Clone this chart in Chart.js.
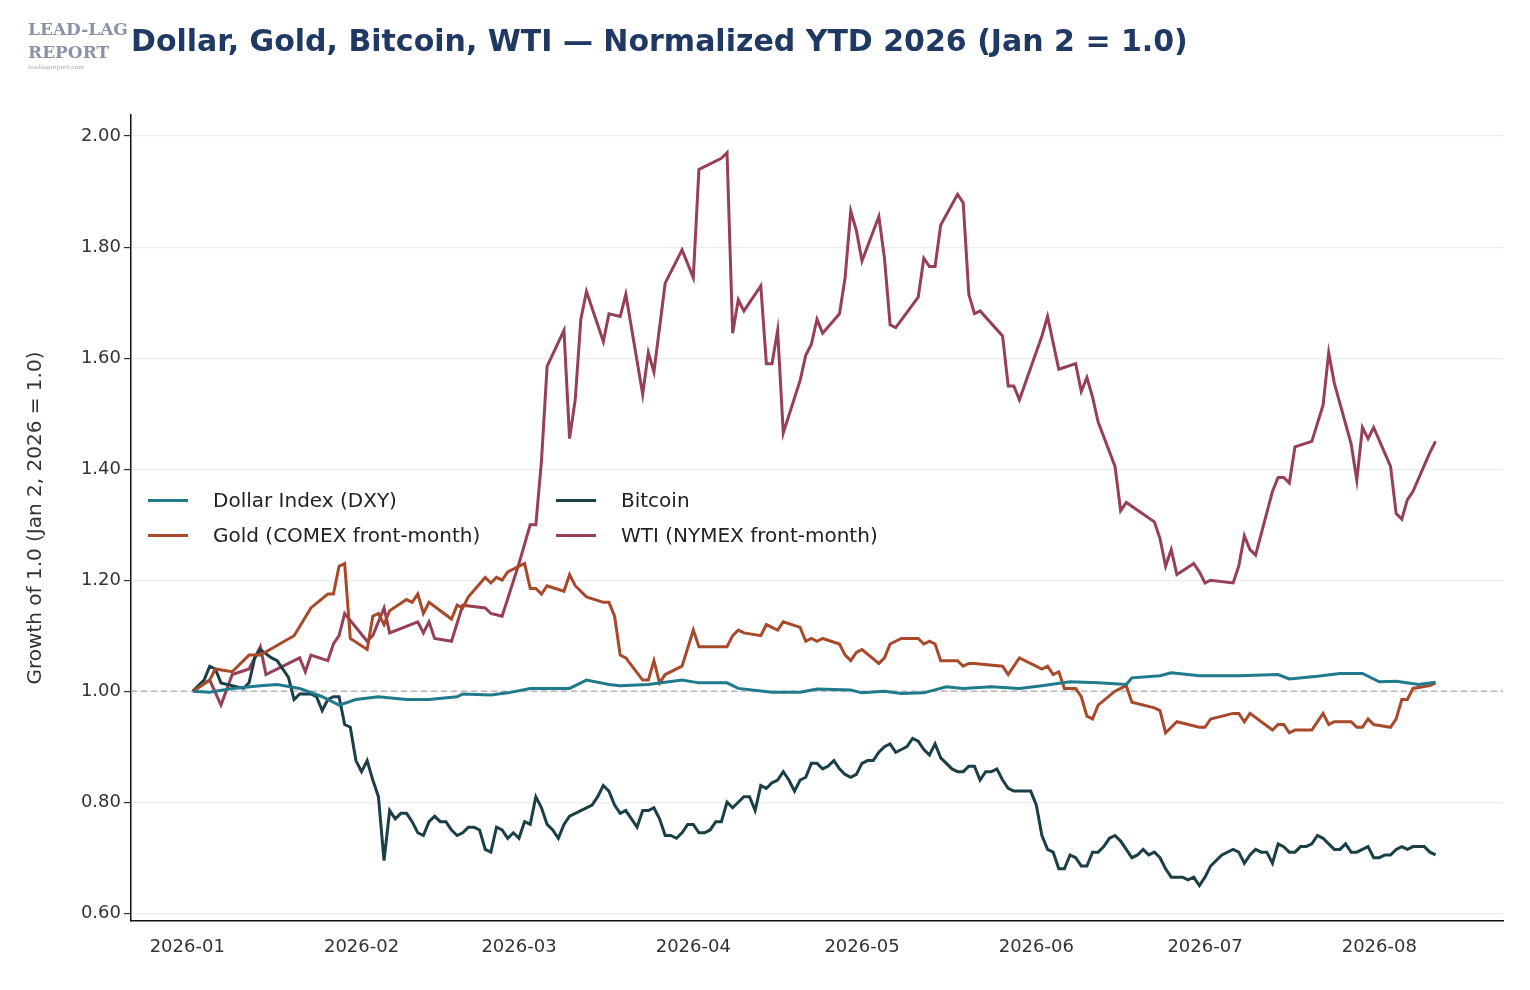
<!DOCTYPE html>
<html>
<head>
<meta charset="utf-8">
<script src="https://cdn.jsdelivr.net/npm/chart.js@4"></script>
<style>
  body { margin:0; background:#fff; font-family:"DejaVu Sans", sans-serif; }
  #wrap { position:relative; width:1530px; height:990px; }
  #logo { position:absolute; left:28px; top:18px; font-family:"DejaVu Serif", serif; font-weight:bold; color:#8a93a6; font-size:17px; line-height:23px; }
  #logo small { display:block; font-size:6px; line-height:6px; font-weight:normal; color:#aab; }
  #title { position:absolute; left:131px; top:23px; font-size:30px; font-weight:bold; color:#1f3864; }
  #legend { position:absolute; left:148px; top:488px; display:grid; grid-template-columns:408px 330px; row-gap:11px; font-size:20px; color:#222; }
  .it { display:flex; align-items:center; }
  .it i { display:inline-block; width:40px; height:3px; margin-right:25px; }
</style>
</head>
<body>
<div id="wrap">
  <canvas id="myChart" width="1530" height="990"></canvas>
  <div id="logo">LEAD-LAG<br>REPORT<small>leadlagreport.com</small></div>
  <div id="title">Dollar, Gold, Bitcoin, WTI — Normalized YTD 2026 (Jan 2 = 1.0)</div>
  <div id="legend">
    <div class="it"><i style="background:#1f7a8c"></i>Dollar Index (DXY)</div>
    <div class="it"><i style="background:#1b3f47"></i>Bitcoin</div>
    <div class="it"><i style="background:#a84a2a"></i>Gold (COMEX front-month)</div>
    <div class="it"><i style="background:#973f55"></i>WTI (NYMEX front-month)</div>
  </div>
</div>
<script>
/* 月初の位置 (1月1日 = 0日目) */
const monthDays = [0, 31, 59, 90, 120, 151, 181, 212];
const monthLabels = ["2026-01","2026-02","2026-03","2026-04","2026-05","2026-06","2026-07","2026-08"];
const yTicks = [0.6, 0.8, 1.0, 1.2, 1.4, 1.6, 1.8, 2.0];

/* [日, 値] */
const dxy = [[1,1.00],[4,0.998],[8,1.005],[13,1.01],[16,1.012],[20,1.005],[24,0.99],[27,0.975],[30,0.985],[34,0.99],[39,0.985],[43,0.985],[48,0.99],[49,0.995],[54,0.993],[57,0.997],[61,1.005],[68,1.005],[71,1.02],[75,1.012],[77,1.01],[82,1.012],[88,1.02],[91,1.015],[96,1.015],[98,1.005],[104,0.998],[109,0.998],[112,1.004],[118,1.002],[120,0.997],[124,1.0],[127,0.996],[131,0.997],[135,1.008],[138,1.005],[143,1.008],[148,1.005],[152,1.01],[157,1.017],[162,1.015],[167,1.012],[168,1.024],[173,1.028],[175,1.033],[180,1.028],[183,1.028],[187,1.028],[194,1.03],[196,1.022],[201,1.027],[205,1.032],[209,1.032],[212,1.017],[215,1.018],[219,1.012],[222,1.016]];

const gold = [[1,1.00],[4,1.02],[5,1.04],[8,1.035],[11,1.065],[13,1.065],[19,1.10],[22,1.15],[25,1.175],[26,1.175],[27,1.225],[28,1.23],[29,1.095],[32,1.075],[33,1.135],[34,1.14],[35,1.12],[36,1.145],[39,1.165],[40,1.16],[41,1.175],[42,1.14],[43,1.16],[47,1.13],[48,1.155],[49,1.15],[50,1.17],[53,1.205],[54,1.195],[55,1.205],[56,1.20],[57,1.215],[60,1.23],[61,1.185],[62,1.185],[63,1.175],[64,1.19],[67,1.18],[68,1.21],[69,1.19],[71,1.17],[74,1.16],[75,1.16],[76,1.135],[77,1.065],[78,1.06],[81,1.02],[82,1.02],[83,1.055],[84,1.015],[85,1.03],[88,1.045],[90,1.11],[91,1.08],[96,1.08],[97,1.10],[98,1.11],[99,1.105],[102,1.10],[103,1.12],[104,1.115],[105,1.11],[106,1.125],[109,1.115],[110,1.09],[111,1.095],[112,1.09],[113,1.095],[116,1.085],[117,1.065],[118,1.055],[119,1.07],[120,1.075],[123,1.05],[124,1.06],[125,1.085],[127,1.095],[130,1.095],[131,1.085],[132,1.09],[133,1.085],[134,1.055],[137,1.055],[138,1.045],[139,1.05],[140,1.05],[145,1.045],[146,1.03],[148,1.06],[152,1.04],[153,1.045],[154,1.03],[155,1.035],[156,1.005],[158,1.005],[159,0.99],[160,0.955],[161,0.95],[162,0.975],[165,1.00],[166,1.005],[167,1.01],[168,0.98],[172,0.97],[173,0.965],[174,0.925],[175,0.935],[176,0.945],[180,0.935],[181,0.935],[182,0.95],[186,0.96],[187,0.96],[188,0.945],[189,0.96],[193,0.93],[194,0.94],[195,0.94],[196,0.925],[197,0.93],[200,0.93],[202,0.96],[203,0.94],[204,0.945],[207,0.945],[208,0.935],[209,0.935],[210,0.95],[211,0.94],[214,0.935],[215,0.95],[216,0.985],[217,0.985],[218,1.005],[221,1.01],[222,1.015]];

const btc = [[1,1.00],[3,1.02],[4,1.045],[5,1.04],[6,1.015],[8,1.01],[10,1.005],[11,1.015],[12,1.06],[13,1.075],[15,1.06],[16,1.055],[18,1.025],[19,0.985],[20,0.995],[22,0.995],[23,0.99],[24,0.965],[25,0.985],[26,0.99],[27,0.99],[28,0.94],[29,0.935],[30,0.875],[31,0.855],[32,0.875],[33,0.84],[34,0.81],[35,0.695],[36,0.785],[37,0.77],[38,0.78],[39,0.78],[40,0.765],[41,0.745],[42,0.74],[43,0.765],[44,0.775],[45,0.765],[46,0.765],[47,0.75],[48,0.74],[49,0.745],[50,0.755],[51,0.755],[52,0.75],[53,0.715],[54,0.71],[55,0.755],[56,0.75],[57,0.735],[58,0.745],[59,0.735],[60,0.765],[61,0.76],[62,0.81],[63,0.79],[64,0.76],[65,0.75],[66,0.735],[67,0.76],[68,0.775],[70,0.785],[72,0.795],[73,0.81],[74,0.83],[75,0.82],[76,0.795],[77,0.78],[78,0.785],[79,0.77],[80,0.755],[81,0.785],[82,0.785],[83,0.79],[84,0.77],[85,0.74],[86,0.74],[87,0.735],[88,0.745],[89,0.76],[90,0.76],[91,0.745],[92,0.745],[93,0.75],[94,0.765],[95,0.765],[96,0.80],[97,0.79],[98,0.80],[99,0.81],[100,0.81],[101,0.785],[102,0.83],[103,0.825],[104,0.835],[105,0.84],[106,0.855],[107,0.84],[108,0.82],[109,0.84],[110,0.845],[111,0.87],[112,0.87],[113,0.86],[114,0.865],[115,0.875],[116,0.86],[117,0.85],[118,0.845],[119,0.85],[120,0.87],[121,0.875],[122,0.875],[123,0.89],[124,0.90],[125,0.905],[126,0.89],[127,0.895],[128,0.90],[129,0.915],[130,0.91],[131,0.895],[132,0.885],[133,0.905],[134,0.88],[135,0.87],[136,0.86],[137,0.855],[138,0.855],[139,0.865],[140,0.865],[141,0.84],[142,0.855],[143,0.855],[144,0.86],[145,0.84],[146,0.825],[147,0.82],[148,0.82],[149,0.82],[150,0.82],[151,0.795],[152,0.74],[153,0.715],[154,0.71],[155,0.68],[156,0.68],[157,0.705],[158,0.70],[159,0.685],[160,0.685],[161,0.71],[162,0.71],[163,0.72],[164,0.735],[165,0.74],[166,0.73],[167,0.715],[168,0.70],[169,0.705],[170,0.715],[171,0.705],[172,0.71],[173,0.70],[174,0.68],[175,0.665],[176,0.665],[177,0.665],[178,0.66],[179,0.665],[180,0.65],[181,0.665],[182,0.685],[183,0.695],[184,0.705],[186,0.715],[187,0.71],[188,0.69],[189,0.705],[190,0.715],[191,0.71],[192,0.71],[193,0.69],[194,0.725],[195,0.72],[196,0.71],[197,0.71],[198,0.72],[199,0.72],[200,0.725],[201,0.74],[202,0.735],[203,0.725],[204,0.715],[205,0.715],[206,0.725],[207,0.71],[208,0.71],[209,0.715],[210,0.72],[211,0.70],[212,0.70],[213,0.705],[214,0.705],[215,0.715],[216,0.72],[217,0.715],[218,0.72],[219,0.72],[220,0.72],[221,0.71],[222,0.705]];

const wti = [[1,1.00],[4,1.02],[6,0.975],[8,1.03],[11,1.04],[13,1.08],[14,1.03],[20,1.06],[21,1.035],[22,1.065],[25,1.055],[26,1.085],[27,1.10],[28,1.14],[32,1.09],[33,1.10],[35,1.15],[36,1.105],[41,1.125],[42,1.105],[43,1.125],[44,1.095],[47,1.09],[49,1.155],[53,1.15],[54,1.14],[56,1.135],[59,1.23],[61,1.30],[62,1.30],[63,1.415],[64,1.585],[67,1.65],[68,1.455],[69,1.525],[70,1.67],[71,1.72],[74,1.63],[75,1.68],[77,1.675],[78,1.715],[81,1.535],[82,1.61],[83,1.575],[85,1.735],[88,1.795],[90,1.745],[91,1.94],[95,1.96],[96,1.97],[97,1.645],[98,1.705],[99,1.685],[102,1.73],[103,1.59],[104,1.59],[105,1.65],[106,1.465],[109,1.56],[110,1.605],[111,1.625],[112,1.67],[113,1.645],[116,1.68],[117,1.745],[118,1.865],[119,1.83],[120,1.775],[123,1.855],[124,1.78],[125,1.66],[126,1.655],[130,1.71],[131,1.78],[132,1.765],[133,1.765],[134,1.84],[137,1.895],[138,1.88],[139,1.715],[140,1.68],[141,1.685],[145,1.64],[146,1.55],[147,1.55],[148,1.525],[152,1.64],[153,1.675],[155,1.58],[158,1.59],[159,1.54],[160,1.565],[161,1.53],[162,1.485],[165,1.405],[166,1.325],[167,1.34],[172,1.305],[173,1.275],[174,1.225],[175,1.255],[176,1.21],[179,1.23],[180,1.215],[181,1.195],[182,1.20],[186,1.195],[187,1.225],[188,1.28],[189,1.255],[190,1.245],[193,1.36],[194,1.385],[195,1.385],[196,1.375],[197,1.44],[200,1.45],[202,1.515],[203,1.61],[204,1.555],[207,1.445],[208,1.38],[209,1.475],[210,1.455],[211,1.475],[214,1.405],[215,1.32],[216,1.31],[217,1.345],[218,1.36],[221,1.43],[222,1.45]];

function toXY(arr){ return arr.map(p => ({x:p[0], y:p[1]})); }

function line(label, arr, color){
  return { label:label, data:toXY(arr), borderColor:color, backgroundColor:color,
           borderWidth:3, pointRadius:0, tension:0 };
}

/* 1.0 の点線 と 月ラベル */
const extras = {
  id:'extras',
  beforeDatasetsDraw(chart){
    const c = chart.ctx, a = chart.chartArea, y = chart.scales.y.getPixelForValue(1);
    c.save();
    c.strokeStyle = '#aaaaaa'; c.lineWidth = 1.2; c.setLineDash([6,4]);
    c.beginPath(); c.moveTo(a.left, y); c.lineTo(a.right, y); c.stroke();
    c.restore();
  },
  afterDraw(chart){
    const c = chart.ctx, sx = chart.scales.x, a = chart.chartArea;
    c.save();
    c.font = '18px "DejaVu Sans"'; c.fillStyle = '#333';
    c.textAlign = 'center'; c.textBaseline = 'top';
    monthDays.forEach((d, i) => c.fillText(monthLabels[i], sx.getPixelForValue(d), a.bottom + 17));
    c.restore();
  }
};

Chart.defaults.font.family = '"DejaVu Sans", sans-serif';
Chart.defaults.color = '#333';

let ctx = document.getElementById('myChart').getContext('2d');
new Chart(ctx, {
  type:'line',
  data:{ datasets:[
    line('Dollar Index (DXY)', dxy, '#1f7a8c'),
    line('Gold (COMEX front-month)', gold, '#a84a2a'),
    line('Bitcoin', btc, '#1b3f47'),
    line('WTI (NYMEX front-month)', wti, '#973f55')
  ]},
  options:{
    responsive:false, animation:false,
    layout:{ padding:{ top:115, right:27, left:20, bottom:0 } },
    plugins:{ legend:{display:false}, tooltip:{enabled:false} },
    scales:{
      x:{
        type:'linear', min:-10, max:234,
        afterBuildTicks: ax => { ax.ticks = monthDays.map(v => ({value:v})); },
        afterFit: ax => { ax.height = 69; },
        ticks:{ font:{size:18}, color:'rgba(0,0,0,0)', padding:8, callback: () => '' },
        grid:{ display:false, drawTicks:true, tickLength:7, tickColor:'#333' },
        border:{ color:'#111', width:1.5 }
      },
      y:{
        min:0.586, max:2.038,
        afterBuildTicks: ax => { ax.ticks = yTicks.map(v => ({value:v})); },
        afterFit: ax => { ax.width = 111; },
        ticks:{ font:{size:18}, color:'#333', callback: v => v.toFixed(2) },
        grid:{ color:'#ececec', lineWidth:1.2, tickColor:'#333', tickLength:7 },
        border:{ color:'#111', width:1.5 },
        title:{ display:true, text:'Growth of 1.0 (Jan 2, 2026 = 1.0)', font:{size:20}, color:'#333' }
      }
    }
  },
  plugins:[extras]
});
</script>
</body>
</html>
